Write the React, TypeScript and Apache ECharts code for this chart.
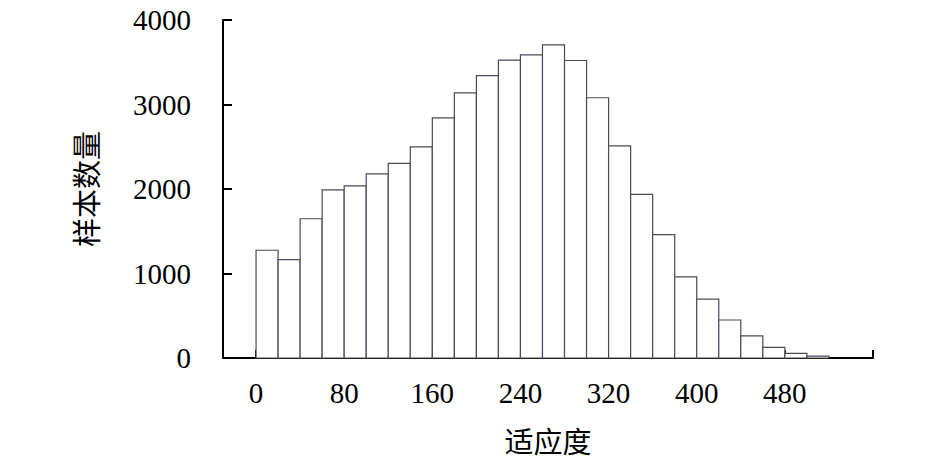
import * as echarts from 'echarts';
import { useEffect, useRef } from 'react';

// histogram bins (left edge, width 20) and sample counts
const binStarts = [0, 20, 40, 60, 80, 100, 120, 140, 160, 180, 200, 220, 240, 260, 280, 300, 320, 340, 360, 380, 400, 420, 440, 460, 480, 500];
const counts = [1275, 1165, 1648, 1990, 2037, 2178, 2303, 2499, 2842, 3138, 3342, 3525, 3588, 3705, 3521, 3080, 2511, 1937, 1460, 960, 696, 450, 262, 125, 55, 22];
const binWidth = 20;
const xTicks = [0, 80, 160, 240, 320, 400, 480, 560];
const xLabels = [0, 80, 160, 240, 320, 400, 480];

const FONT = '"Liberation Serif", "Noto Sans CJK SC", serif';

const App = () => {
    const chartRef = useRef(null);

    useEffect(() => {
        const chart = echarts.init(chartRef.current, null, { renderer: 'svg' });

        const data = binStarts.map((s, i) => [s, s + binWidth, counts[i]]);

        const option = {
            animation: false,
            backgroundColor: '#fff',
            grid: { left: 223, top: 20, right: 72, bottom: 100, containLabel: false },
            xAxis: {
                type: 'value',
                min: -30,
                max: 560,
                name: '适应度',
                nameLocation: 'middle',
                nameGap: 70,
                nameTextStyle: { fontFamily: FONT, fontSize: 29, color: '#000' },
                axisLine: { show: true, onZero: false, lineStyle: { color: '#000', width: 2 } },
                axisTick: { show: true, inside: true, length: 8, customValues: xTicks, lineStyle: { color: '#000', width: 2 } },
                axisLabel: { customValues: xLabels, margin: 20, fontFamily: FONT, fontSize: 29, color: '#000', formatter: (v) => String(v) },
                splitLine: { show: false },
            },
            yAxis: {
                type: 'value',
                min: 0,
                max: 4000,
                interval: 1000,
                name: '样本数量',
                nameLocation: 'middle',
                nameGap: 121,
                nameTextStyle: { fontFamily: FONT, fontSize: 29, color: '#000' },
                axisLine: { show: true, onZero: false, lineStyle: { color: '#000', width: 2 } },
                axisTick: { show: true, inside: true, length: 9, lineStyle: { color: '#000', width: 2 } },
                axisLabel: { margin: 32, fontFamily: FONT, fontSize: 29, color: '#000', formatter: (v) => String(v) },
                splitLine: { show: false },
            },
            series: [
                {
                    type: 'custom',
                    data,
                    encode: { x: [0, 1], y: 2 },
                    renderItem: (params, api) => {
                        const p0 = api.coord([api.value(0), 0]);
                        const p1 = api.coord([api.value(1), api.value(2)]);
                        return {
                            type: 'rect',
                            shape: { x: p0[0], y: p1[1], width: p1[0] - p0[0], height: p0[1] - p1[1] },
                            style: { fill: '#fff', stroke: '#4a4a58', lineWidth: 1.2 },
                        };
                    },
                },
            ],
        };

        chart.setOption(option);

        return () => {
            chart.dispose();
        };
    }, []);

    return <div ref={chartRef} style={{ position: 'fixed', left: 0, top: 0, width: '945px', height: '462px' }} />;
};

export default App;
